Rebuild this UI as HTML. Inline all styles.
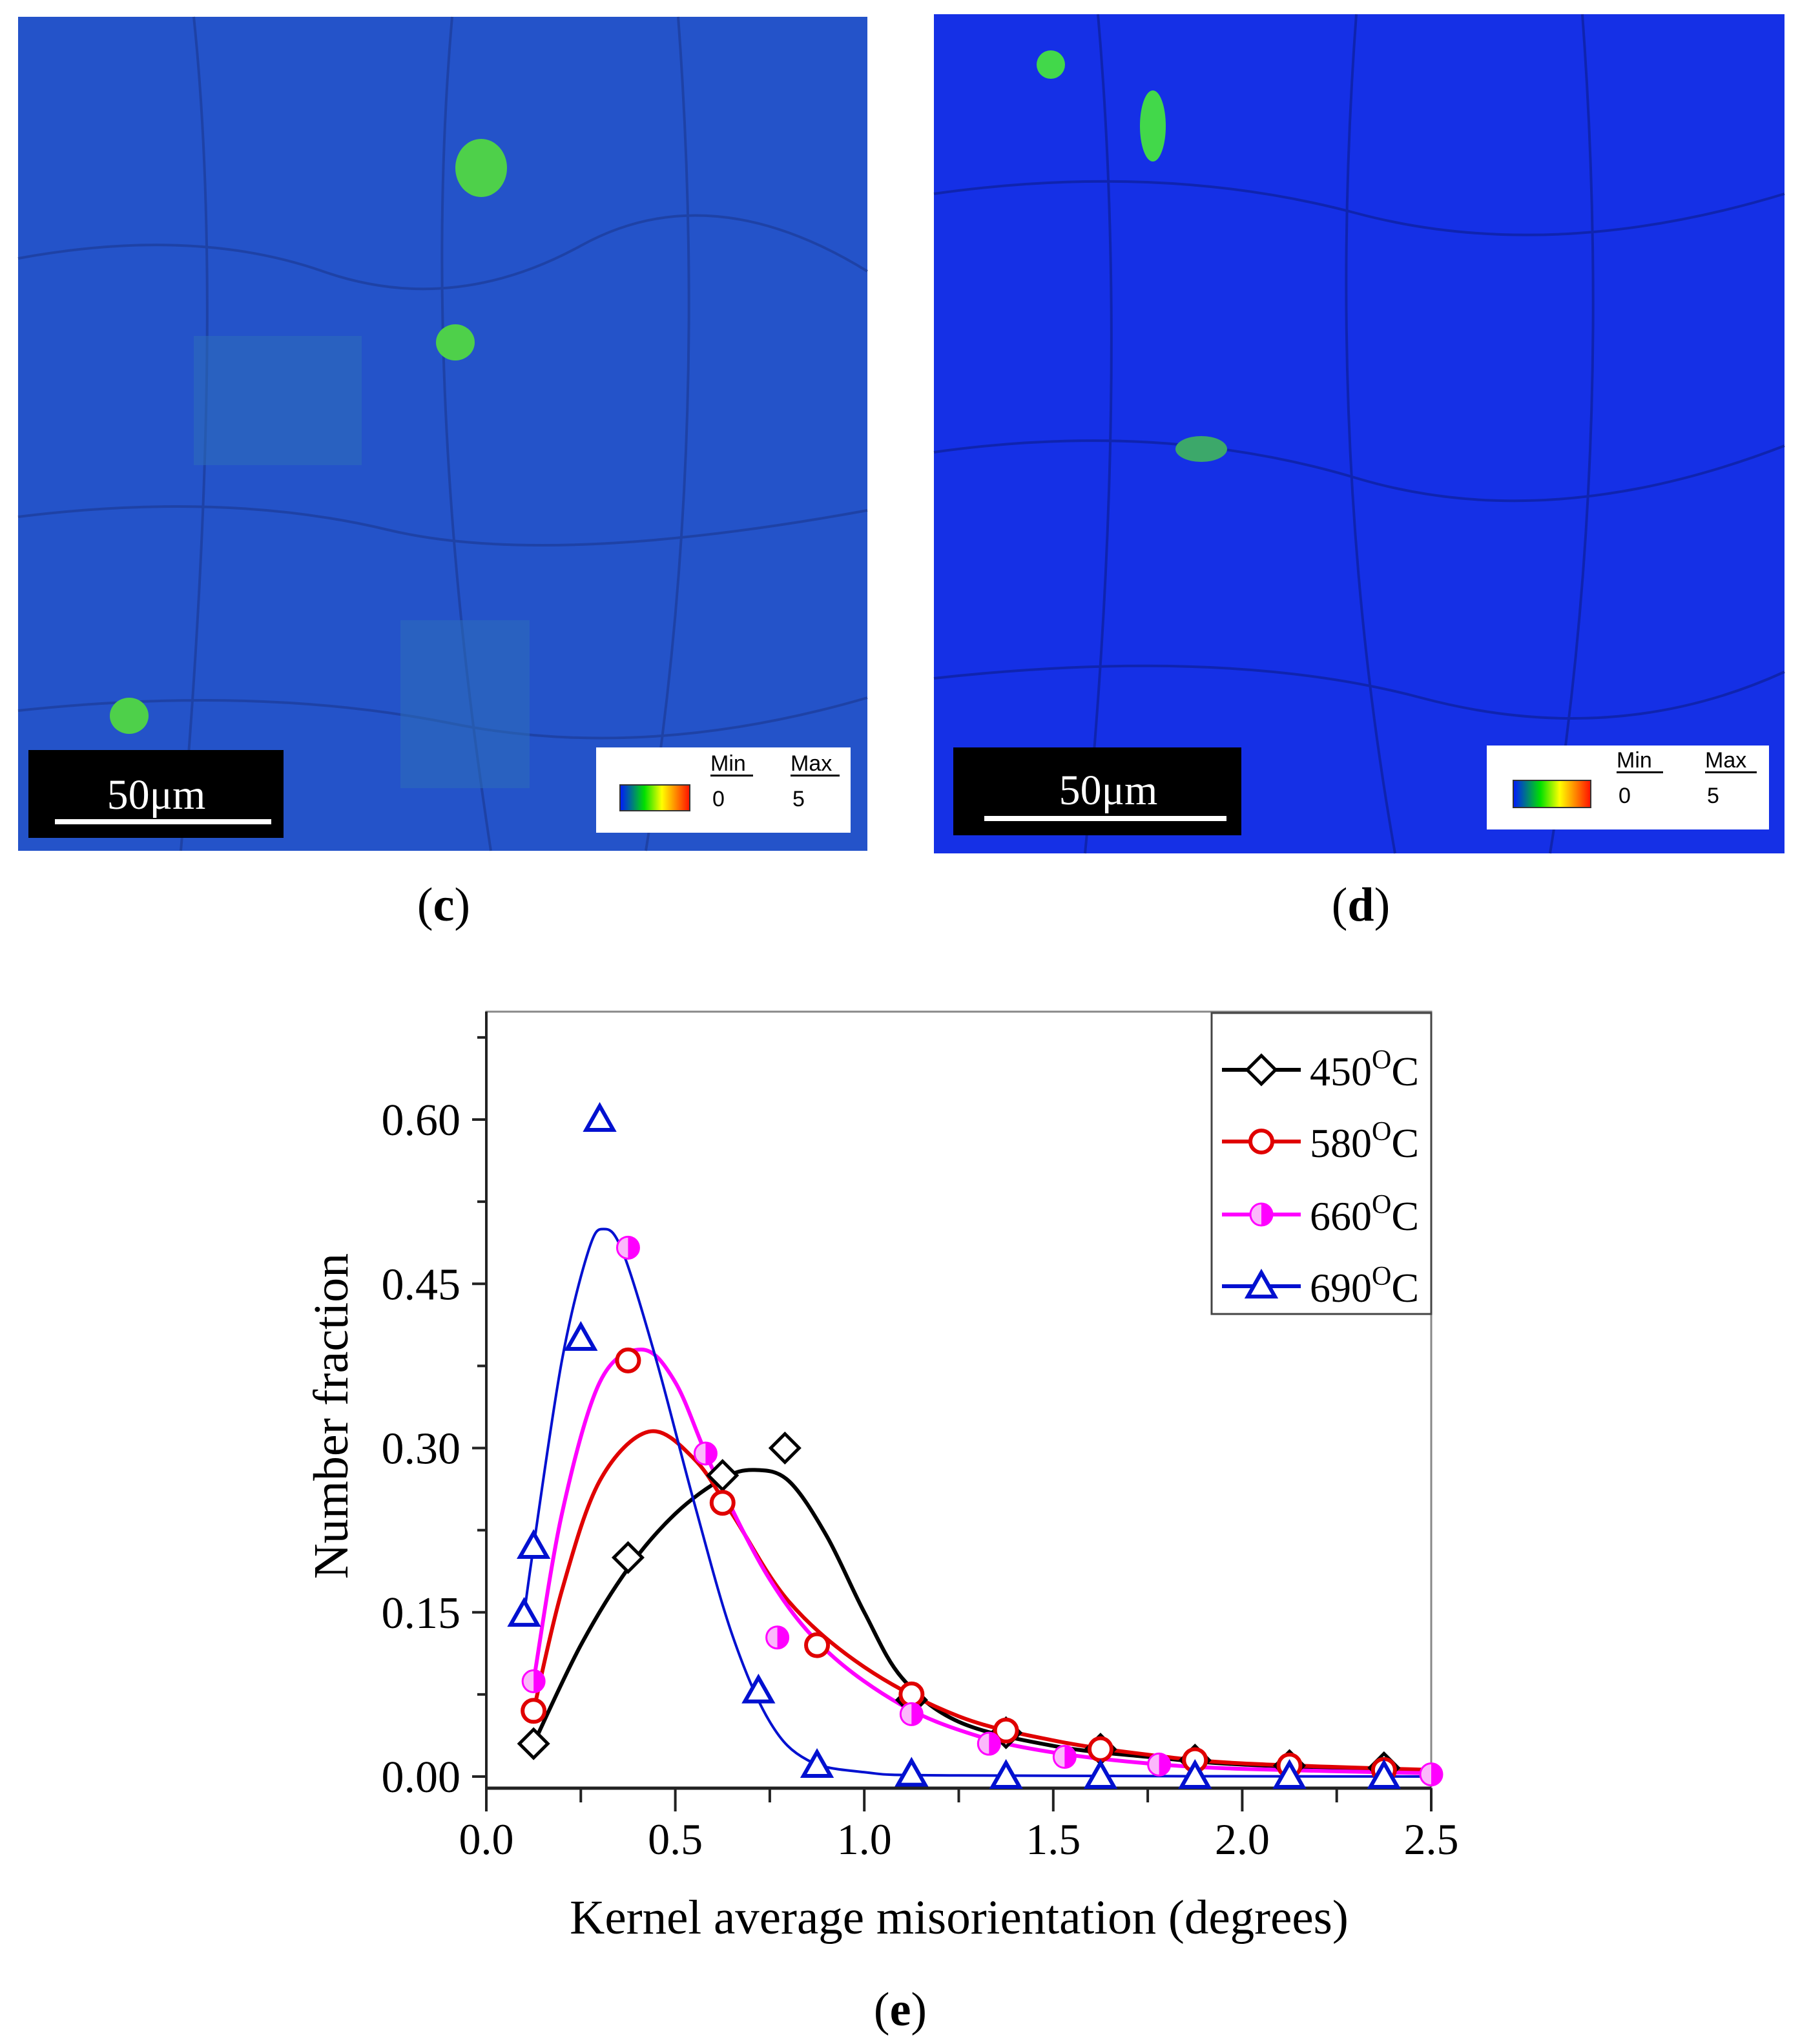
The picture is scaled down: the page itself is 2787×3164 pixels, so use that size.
<!DOCTYPE html>
<html><head><meta charset="utf-8"><style>
html,body{margin:0;padding:0;background:#fff;}
svg{display:block;}
text{font-family:"Liberation Serif",serif;}
</style></head><body>
<svg id="fig" width="2787" height="3164" viewBox="0 0 2787 3164" xmlns="http://www.w3.org/2000/svg">
<g>
<rect x="28" y="26" width="1315" height="1291" fill="#2453c9"/>
<path d="M28 400 Q300 350 500 420 T900 380 T1343 420 M28 800 Q350 760 600 820 T1343 790 M28 1100 Q400 1060 700 1120 T1343 1080 M300 26 Q350 500 280 1317 M700 26 Q650 600 760 1317 M1050 26 Q1100 700 1000 1317" stroke="#1a3790" stroke-width="4" fill="none" opacity="0.6"/>
<rect x="300" y="520" width="260" height="200" fill="#2e6fb8" opacity="0.5"/>
<rect x="620" y="960" width="200" height="260" fill="#2e6fb8" opacity="0.5"/>
<ellipse cx="745" cy="260" rx="40" ry="45" fill="#4ed04a"/>
<ellipse cx="705" cy="530" rx="30" ry="28" fill="#4ed04a"/>
<ellipse cx="200" cy="1108" rx="30" ry="28" fill="#4ed04a"/>
<rect x="44" y="1161" width="395" height="136" fill="#000"/>
<rect x="85" y="1268" width="335" height="8" fill="#fff"/>
<text x="242" y="1252" font-size="66" fill="#fff" text-anchor="middle">50μm</text>
<rect x="923" y="1157" width="394" height="132" fill="#fff"/>
<defs><linearGradient id="cb" x1="0" x2="1"><stop offset="0" stop-color="#0018ff"/><stop offset="0.35" stop-color="#00e000"/><stop offset="0.6" stop-color="#ffff00"/><stop offset="1" stop-color="#ff1000"/></linearGradient></defs>
<rect x="960" y="1215" width="108" height="40" fill="url(#cb)" stroke="#333" stroke-width="2"/>
<text x="1100" y="1193" font-size="34" style="font-family:'Liberation Sans',sans-serif">Min</text>
<text x="1224" y="1193" font-size="34" style="font-family:'Liberation Sans',sans-serif">Max</text>
<rect x="1100" y="1199" width="66" height="3" fill="#000"/>
<rect x="1224" y="1199" width="76" height="3" fill="#000"/>
<text x="1103" y="1248" font-size="34" style="font-family:'Liberation Sans',sans-serif">0</text>
<text x="1227" y="1248" font-size="34" style="font-family:'Liberation Sans',sans-serif">5</text>
</g>
<g>
<rect x="1446" y="22" width="1317" height="1299" fill="#1530e6"/>
<path d="M1446 300 Q1800 250 2100 330 T2763 300 M1446 700 Q1800 650 2100 740 T2763 690 M1446 1050 Q1900 1000 2200 1080 T2763 1040 M1700 22 Q1750 600 1680 1321 M2100 22 Q2050 700 2160 1321 M2450 22 Q2500 700 2400 1321" stroke="#0c1d8a" stroke-width="4" fill="none" opacity="0.6"/>
<ellipse cx="1785" cy="195" rx="20" ry="55" fill="#42d84a"/>
<ellipse cx="1627" cy="100" rx="22" ry="22" fill="#42d84a"/>
<ellipse cx="1860" cy="695" rx="40" ry="20" fill="#3ca86a"/>
<rect x="1476" y="1157" width="446" height="136" fill="#000"/>
<rect x="1524" y="1263" width="375" height="8" fill="#fff"/>
<text x="1716" y="1245" font-size="66" fill="#fff" text-anchor="middle">50μm</text>
<rect x="2302" y="1154" width="437" height="130" fill="#fff"/>
<rect x="2343" y="1208" width="120" height="42" fill="url(#cb)" stroke="#333" stroke-width="2"/>
<text x="2503" y="1188" font-size="34" style="font-family:'Liberation Sans',sans-serif">Min</text>
<text x="2640" y="1188" font-size="34" style="font-family:'Liberation Sans',sans-serif">Max</text>
<rect x="2503" y="1194" width="72" height="3" fill="#000"/>
<rect x="2640" y="1194" width="80" height="3" fill="#000"/>
<text x="2506" y="1243" font-size="34" style="font-family:'Liberation Sans',sans-serif">0</text>
<text x="2643" y="1243" font-size="34" style="font-family:'Liberation Sans',sans-serif">5</text>
</g>
<text x="687" y="1425" font-size="74" text-anchor="middle">(<tspan font-weight="bold">c</tspan>)</text>
<text x="2107" y="1425" font-size="74" text-anchor="middle">(<tspan font-weight="bold">d</tspan>)</text>
<text x="1394" y="3135" font-size="74" text-anchor="middle">(<tspan font-weight="bold">e</tspan>)</text>
<g id="chart"></g>
</svg>
<script>
const xTicks=[0,0.5,1.0,1.5,2.0,2.5];
const xTickLabels=["0.0","0.5","1.0","1.5","2.0","2.5"];
const yTicks=[0,0.15,0.30,0.45,0.60];
const yTickLabels=["0.00","0.15","0.30","0.45","0.60"];
const seriesNames=["450\u00B0C","580\u00B0C","660\u00B0C","690\u00B0C"];
const x450=[0.125,0.375,0.625,0.79,1.125,1.375,1.625,1.875,2.125,2.375];
const y450=[0.03,0.20,0.275,0.30,0.07,0.04,0.025,0.015,0.01,0.008];
const x580=[0.125,0.375,0.625,0.875,1.125,1.375,1.625,1.875,2.125,2.375];
const y580=[0.06,0.38,0.25,0.12,0.075,0.042,0.025,0.015,0.01,0.006];
const x660=[0.125,0.375,0.58,0.77,1.125,1.33,1.53,1.78,2.5];
const y660=[0.087,0.483,0.295,0.127,0.057,0.03,0.018,0.011,0.002];
const x690=[0.1,0.125,0.25,0.3,0.72,0.875,1.125,1.375,1.625,1.875,2.125,2.375];
const y690=[0.148,0.21,0.40,0.60,0.078,0.01,0.002,0,0,0,0,0];
const fx450=[0.125,0.25,0.375,0.5,0.625,0.71,0.8,0.9,1.0,1.1,1.25,1.5,1.75,2.0,2.5];
const fy450=[0.03,0.12,0.19,0.24,0.272,0.28,0.27,0.22,0.15,0.09,0.05,0.028,0.018,0.011,0.005];
const fx580=[0.125,0.2,0.3,0.43,0.55,0.65,0.8,1.0,1.25,1.5,1.75,2.0,2.5];
const fy580=[0.06,0.17,0.27,0.315,0.29,0.24,0.16,0.1,0.055,0.033,0.02,0.012,0.006];
const fx660=[0.125,0.2,0.3,0.41,0.5,0.6,0.75,0.9,1.1,1.3,1.5,1.75,2.0,2.5];
const fy660=[0.087,0.24,0.36,0.39,0.36,0.28,0.18,0.115,0.065,0.037,0.022,0.012,0.007,0.003];
const fx690=[0.1,0.125,0.2,0.27,0.31,0.36,0.45,0.55,0.65,0.75,0.85,1.0,1.25,2.5];
const fy690=[0.148,0.21,0.38,0.48,0.50,0.48,0.38,0.25,0.13,0.05,0.015,0.004,0.001,0];

const NS="http://www.w3.org/2000/svg";
const g=document.getElementById('chart');
const L=753,R=2216,T=1566,B=2768;
const X0=0,X1=2.5;
const sx=v=>L+(v-X0)/(X1-X0)*(R-L);
const sy=v=>2750-(v/0.6)*(2750-1733);
function mk(tag,attrs,parent){const e=document.createElementNS(NS,tag);for(const k in attrs)e.setAttribute(k,attrs[k]);(parent||g).appendChild(e);return e;}
let e=mk('rect',{x:L,y:T,width:R-L,height:B-T,fill:'none',stroke:'#888','stroke-width':3});


e=mk('line',{x1:L,y1:T,x2:L,y2:B,stroke:'#222','stroke-width':4});


e=mk('line',{x1:L,y1:B,x2:R,y2:B,stroke:'#222','stroke-width':5});


for(let v=0;v<=0.7001;v+=0.075){const y=sy(v);const major=Math.abs((v/0.15)-Math.round(v/0.15))<1e-6;
 e=mk('line',{x1:L-(major?22:14),y1:y,x2:L,y2:y,stroke:'#222','stroke-width':4});
 
 }
yTicks.forEach((v,i)=>{e=mk('text',{x:L-40,y:sy(v)+24,'font-size':70,'text-anchor':'end'});e.textContent=yTickLabels[i];
 
 });
for(let v=0;v<=2.5001;v+=0.25){const x=sx(v);const major=Math.abs(v*2-Math.round(v*2))<1e-6;
 e=mk('line',{x1:x,y1:B,x2:x,y2:B+(major?36:22),stroke:'#222','stroke-width':4});
 
 }
xTicks.forEach((v,i)=>{e=mk('text',{x:sx(v),y:2870,'font-size':68,'text-anchor':'middle'});e.textContent=xTickLabels[i];
 
 });
e=mk('text',{x:1485,y:2993,'font-size':75,'text-anchor':'middle'});e.textContent='Kernel average misorientation (degrees)';


e=mk('text',{x:0,y:0,'font-size':76,'text-anchor':'middle',transform:'translate(538,2192) rotate(-90)'});e.textContent='Number fraction';



function smooth(xs,ys){const p=xs.map((x,i)=>[sx(x),sy(ys[i])]);let d='M'+p[0][0]+' '+p[0][1];
 for(let i=0;i<p.length-1;i++){const p0=p[i-1]||p[i],p1=p[i],p2=p[i+1],p3=p[i+2]||p2;
  d+=` C${p1[0]+(p2[0]-p0[0])/6} ${p1[1]+(p2[1]-p0[1])/6} ${p2[0]-(p3[0]-p1[0])/6} ${p2[1]-(p3[1]-p1[1])/6} ${p2[0]} ${p2[1]}`;}
 return d;}
const colors=['#000000','#e00000','#ff00ff','#0010d0'];
function marker(type,cx,cy,col,parent){let m;
 if(type===0){m=mk('path',{d:`M${cx} ${cy-22} L${cx+22} ${cy} L${cx} ${cy+22} L${cx-22} ${cy} Z`,fill:'#fff',stroke:col,'stroke-width':5},parent);}
 else if(type===1){m=mk('circle',{cx:cx,cy:cy,r:17,fill:'#fff',stroke:col,'stroke-width':6},parent);}
 else if(type===2){m=mk('g',{},parent);mk('circle',{cx:cx,cy:cy,r:17,fill:'#fbb8fb',stroke:'none'},m);
  mk('path',{d:`M${cx} ${cy-17} A17 17 0 0 1 ${cx} ${cy+17} Z`,fill:col},m);
  mk('circle',{cx:cx,cy:cy,r:17,fill:'none',stroke:col,'stroke-width':3},m);}
 else {m=mk('path',{d:`M${cx} ${cy-21} L${cx+21} ${cy+16} L${cx-21} ${cy+16} Z`,fill:'#fff',stroke:col,'stroke-width':6},parent);}
 return m;}
const fits=[[fx450,fy450],[fx580,fy580],[fx660,fy660],[fx690,fy690]];
const pts=[[x450,y450],[x580,y580],[x660,y660],[x690,y690]];
const names=['450','580','660','690'];
fits.forEach((f,i)=>{const p=mk('path',{d:smooth(f[0],f[1]),fill:'none',stroke:colors[i],'stroke-width':i===3?4:6});
 
 });
pts.forEach((s,i)=>{s[0].forEach((x,j)=>{const m=marker(i,sx(x),sy(s[1][j]),colors[i]);
 
 });});
const lg=mk('g',{});


e=mk('rect',{x:1876,y:1568,width:340,height:466,fill:'#fff',stroke:'#444','stroke-width':3},lg);


const ly=[1656,1767,1880,1991];
seriesNames.forEach((n,i)=>{const eg=mk('g',{},lg);
 
 
 mk('line',{x1:1892,y1:ly[i],x2:2014,y2:ly[i],stroke:colors[i],'stroke-width':6},eg);
 marker(i,1953,ly[i],colors[i],eg);
 const t=mk('text',{x:2028,y:ly[i]+24,'font-size':64},eg);
 t.innerHTML=names[i]+'<tspan dy="-26" font-size="42">O</tspan><tspan dy="26">C</tspan>';});
</script>
</body></html>
